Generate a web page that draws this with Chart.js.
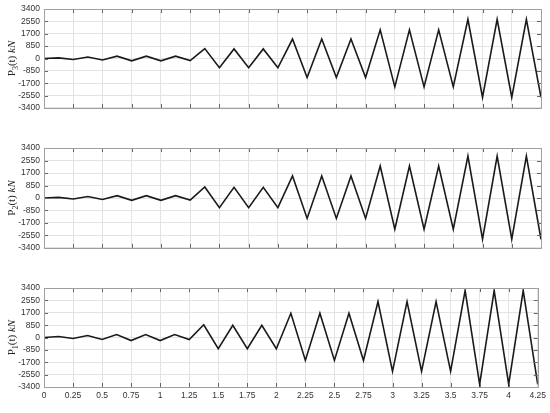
<!DOCTYPE html>
<html>
<head>
<meta charset="utf-8">
<script src="https://cdn.jsdelivr.net/npm/chart.js@4.4.0/dist/chart.umd.min.js"></script>
<style>
  html, body { margin: 0; padding: 0; background: #fff; }
  #wrap { position: relative; width: 550px; height: 413px; }
  .panel { position: absolute; left: 0; width: 550px; }
</style>
</head>
<body>
<div id="wrap">
  <div class="panel" style="top:0;height:117px"><canvas id="c3"></canvas></div>
  <div class="panel" style="top:139px;height:118px"><canvas id="c2"></canvas></div>
  <div class="panel" style="top:279px;height:134px"><canvas id="c1"></canvas></div>
</div>
<script>
// time samples (s)
var times = [0, 0.125, 0.25, 0.375, 0.5, 0.625, 0.75, 0.875, 1, 1.125, 1.25, 1.375, 1.5, 1.625, 1.75, 1.875, 2,
  2.125, 2.25, 2.375, 2.5, 2.625, 2.75, 2.875, 3, 3.125, 3.25, 3.375, 3.5, 3.625, 3.75, 3.875, 4, 4.125, 4.25];

// loads (kN)
var p3 = [0, 45, -70, 100, -100, 160, -160, 160, -160, 160, -140, 680, -640, 660, -640, 660, -640,
  1340, -1310, 1340, -1310, 1340, -1310, 1970, -1950, 1970, -1950, 1970, -1950, 2700, -2680, 2700, -2680, 2700, -2680];
var p2 = [0, 45, -70, 100, -100, 160, -160, 160, -160, 160, -140, 750, -660, 725, -660, 725, -660,
  1500, -1390, 1500, -1390, 1500, -1390, 2180, -2130, 2180, -2130, 2180, -2130, 2860, -2810, 2860, -2810, 2860, -2810];
var p1 = [0, 68, -68, 136, -136, 204, -204, 204, -204, 204, -136, 880, -770, 840, -770, 840, -770,
  1670, -1570, 1670, -1570, 1670, -1570, 2470, -2320, 2470, -2320, 2470, -2320, 3230, -3220, 3230, -3220, 3230, -3220];

var yTicks = [-3400, -2550, -1700, -850, 0, 850, 1700, 2550, 3400];
var xTicks = [0, 0.25, 0.5, 0.75, 1, 1.25, 1.5, 1.75, 2, 2.25, 2.5, 2.75, 3, 3.25, 3.5, 3.75, 4, 4.25];

var tickFont = { family: '"Liberation Sans", Arial, sans-serif', size: 8.5 };

// box, inward ticks and axis labels drawn like the original figure
var frame = {
  id: 'frame',
  afterDraw: function (chart) {
    var a = chart.chartArea, ctx = chart.ctx;
    var o = chart.options.plugins.frame;
    ctx.save();
    ctx.strokeStyle = '#666';
    ctx.lineWidth = 1;
    ctx.beginPath();
    xTicks.forEach(function (v) {
      var px = Math.round(chart.scales.x.getPixelForValue(v)) + 0.5;
      ctx.moveTo(px, a.bottom); ctx.lineTo(px, a.bottom - 4);
      ctx.moveTo(px, a.top); ctx.lineTo(px, a.top + 4);
    });
    yTicks.forEach(function (v) {
      var py = Math.round(chart.scales.y.getPixelForValue(v)) + 0.5;
      ctx.moveTo(a.left, py); ctx.lineTo(a.left + 4, py);
      ctx.moveTo(a.right, py); ctx.lineTo(a.right - 4, py);
    });
    ctx.stroke();
    ctx.strokeStyle = '#a0a0a0';
    ctx.strokeRect(Math.round(a.left) + 0.5, Math.round(a.top) + 0.5,
      Math.round(a.right - a.left), Math.round(a.bottom - a.top));

    // y label: P_n(t) kN
    ctx.fillStyle = '#262626';
    ctx.translate(15, (a.top + a.bottom) / 2);
    ctx.rotate(-Math.PI / 2);
    var big = '11px "Liberation Serif", serif';
    var small = '8px "Liberation Serif", serif';
    var ital = 'italic 11px "Liberation Serif", serif';
    var parts = [['P', big, 0], [o.sub, small, 3], ['(t) ', big, 0], ['kN', ital, 0]];
    var w = 0;
    parts.forEach(function (p) { ctx.font = p[1]; w += ctx.measureText(p[0]).width; });
    var x = -w / 2;
    parts.forEach(function (p) {
      ctx.font = p[1];
      ctx.fillText(p[0], x, p[2]);
      x += ctx.measureText(p[0]).width;
    });
    ctx.restore();

    if (o.xTitle) {
      ctx.save();
      ctx.fillStyle = '#262626';
      ctx.font = 'italic 11px "Liberation Serif", serif';
      ctx.textAlign = 'center';
      ctx.textBaseline = 'alphabetic';
      ctx.fillText('t s', (a.left + a.right) / 2, 410);
      ctx.restore();
    }
  }
};

function makeChart(id, values, sub, bottom) {
  var pts = times.map(function (t, i) { return { x: t, y: values[i] }; });
  return new Chart(document.getElementById(id).getContext('2d'), {
    type: 'line',
    data: {
      datasets: [{
        data: pts,
        borderColor: '#1a1a1a',
        borderWidth: 1.6,
        pointRadius: 0,
        tension: 0,
        fill: false
      }]
    },
    options: {
      responsive: true,
      maintainAspectRatio: false,
      animation: false,
      layout: { padding: { top: 7, right: 9, left: 0, bottom: 0 } },
      plugins: {
        legend: { display: false },
        tooltip: { enabled: false },
        frame: { sub: sub, xTitle: bottom }
      },
      scales: {
        x: {
          type: 'linear',
          min: 0,
          max: 4.25,
          afterBuildTicks: function (s) { s.ticks = xTicks.map(function (v) { return { value: v }; }); },
          afterFit: function (s) { s.height = bottom ? 26 : 6; },
          grid: { color: '#e3e3e3', drawTicks: false },
          border: { display: false },
          ticks: {
            display: bottom,
            autoSkip: false,
            padding: 4,
            maxRotation: 0,
            color: '#333',
            font: tickFont,
            callback: function (v) { return String(v); }
          }
        },
        y: {
          min: -3400,
          max: 3400,
          afterBuildTicks: function (s) { s.ticks = yTicks.map(function (v) { return { value: v }; }); },
          afterFit: function (s) { s.width = 44; },
          grid: { color: '#e3e3e3', drawTicks: false },
          border: { display: false },
          ticks: {
            autoSkip: false,
            padding: 4,
            color: '#333',
            font: tickFont,
            callback: function (v) { return String(v); }
          }
        }
      }
    },
    plugins: [frame]
  });
}

makeChart('c3', p3, '3', false);
makeChart('c2', p2, '2', false);
makeChart('c1', p1, '1', true);
</script>
</body>
</html>
